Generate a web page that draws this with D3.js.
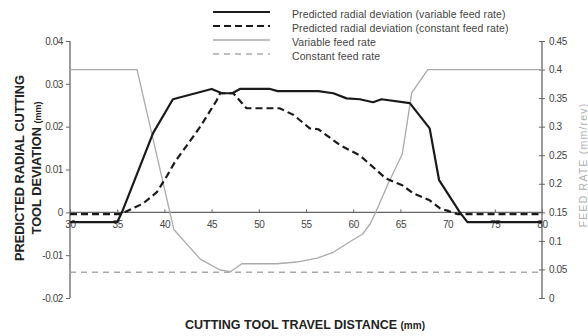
<!DOCTYPE html>
<html><head><meta charset="utf-8">
<script src="https://cdn.jsdelivr.net/npm/d3@7"></script>
<style>body{margin:0;background:#fff}svg{display:block}</style>
</head><body>
<svg id="c" width="588" height="336"></svg>
<script>
// distance (mm)
const xTicks = [30,35,40,45,50,55,60,65,70,75,80];
const leftTicks = [-0.02,-0.01,0,0.01,0.02,0.03,0.04];
const leftTickLabels = ["-0.02","-0.01","0","0.01","0.02","0.03","0.04"];
const rightTicks = [0,0.05,0.1,0.15,0.2,0.25,0.3,0.35,0.4,0.45];
const rightTickLabels = ["0","0.05","0.1","0.15","0.2","0.25","0.3","0.35","0.4","0.45"];

const devVarX = [30,35,35.5,38.8,40.9,45,46.1,47.2,48,51.2,52,56.3,57.9,59.3,60.7,62.1,63,66,68.1,69.1,71.3,72.1,80];
const devVarY = [-0.0023,-0.0023,0,0.0185,0.0264,0.0288,0.0278,0.0278,0.0288,0.0288,0.0283,0.0283,0.0278,0.0266,0.0264,0.0257,0.0264,0.0255,0.0196,0.0075,0,-0.0023,-0.0023];

const devConX = [30,35.4,37.7,39.2,40.3,41.1,43.8,45.5,45.9,47.3,48.7,52.2,53.7,55.4,56.3,58.6,60.7,62.5,63.4,65.2,66.4,68.1,69.2,70.5,71,80];
const devConY = [-0.0004,-0.0004,0.002,0.0047,0.0086,0.0117,0.02,0.026,0.0278,0.0278,0.0243,0.0243,0.0227,0.0196,0.0194,0.0157,0.0133,0.0098,0.008,0.0063,0.0044,0.0028,0.0009,0,-0.0004,-0.0004];

const feedVarX = [30,37.1,41.0,42.4,43.8,45.9,47,48.2,51.9,54,56.2,57.9,59.3,61,61.8,62.3,63.7,65.2,66.2,67.9,80];
const feedVarY = [0.4,0.4,0.12,0.094,0.068,0.049,0.046,0.06,0.06,0.063,0.07,0.08,0.095,0.112,0.13,0.147,0.2,0.252,0.359,0.4,0.4];

const feedConX = [30,80];
const feedConY = [0.045,0.045];

const legendLabels = ["Predicted radial deviation (variable feed rate)","Predicted radial deviation (constant feed rate)","Variable feed rate","Constant feed rate"];

const svg = d3.select("#c");
const x = d3.scaleLinear().domain([30,80]).range([70,542]);
const yL = d3.scaleLinear().domain([-0.02,0.04]).range([298,41]);
const yR = d3.scaleLinear().domain([0,0.45]).range([298,41]);
const axisCol = "#666", txtCol = "#444";
const FONT = "Liberation Sans, Arial, sans-serif";

// left axis
const gL = svg.append("g").attr("transform","translate(70,0)")
  .call(d3.axisLeft(yL).tickValues(leftTicks).tickFormat((d,i)=>leftTickLabels[i]).tickSize(4).tickPadding(3));
// right axis
const gR = svg.append("g").attr("transform","translate(542,0)")
  .call(d3.axisRight(yR).tickValues(rightTicks).tickFormat((d,i)=>rightTickLabels[i]).tickSize(3).tickPadding(4));
gR.selectAll(".tick line").attr("x1",-3);
// x axis at zero
const gX = svg.append("g").attr("transform",`translate(0,${yL(0)})`)
  .call(d3.axisBottom(x).tickValues(xTicks).tickSize(0).tickPadding(9));
gX.selectAll(".tick").append("line").attr("y1",0).attr("y2",-3).attr("stroke",axisCol);

[gL,gR,gX].forEach(g=>{
  g.select(".domain").attr("stroke",axisCol).attr("stroke-width",1.3);
  g.selectAll(".tick line").attr("stroke",axisCol);
  g.selectAll("text").attr("fill",txtCol).style("font-family",FONT).style("font-size","10px").style("letter-spacing","-0.4px");
});
gL.select(".domain").attr("d","M0,41V298");
gR.select(".domain").attr("d","M0,41V298");
gX.select(".domain").attr("d","M70,0H542");

function draw(xs, ys, yScale, col, w, dash){
  const pts = xs.map((d,i)=>[d,ys[i]]);
  svg.append("path").datum(pts)
    .attr("d", d3.line().x(d=>x(d[0])).y(d=>yScale(d[1])))
    .attr("fill","none").attr("stroke",col).attr("stroke-width",w)
    .attr("stroke-dasharray",dash||null).attr("stroke-linejoin","round");
}
draw(feedConX, feedConY, yR, "#aaa", 1.6, "6,5");
draw(feedVarX, feedVarY, yR, "#aaa", 1.3);
draw(devConX, devConY, yL, "#1a1a1a", 2.2, "7,4");
draw(devVarX, devVarY, yL, "#1a1a1a", 2.2);

// legend
const legStyles = [["#1a1a1a",2.2,null],["#1a1a1a",2.2,"7,4"],["#aaa",1.3,null],["#aaa",1.6,"6,5"]];
const legY = [12,26,40,54];
legendLabels.forEach((t,i)=>{
  svg.append("line").attr("x1",213).attr("x2",270).attr("y1",legY[i]).attr("y2",legY[i])
    .attr("stroke",legStyles[i][0]).attr("stroke-width",legStyles[i][1]).attr("stroke-dasharray",legStyles[i][2]);
  svg.append("text").attr("x",292).attr("y",legY[i]+6).text(t)
    .attr("fill",txtCol).style("font-family",FONT).style("font-size","10.5px").style("letter-spacing","0.1px");
});

// titles
const tl = svg.append("text").attr("transform","translate(24,168) rotate(-90)").attr("text-anchor","middle")
  .style("font-family",FONT).style("font-weight","bold").style("font-size","12.8px").attr("fill","#222");
tl.text("PREDICTED RADIAL CUTTING");
const tl2 = svg.append("text").attr("transform","translate(41,168) rotate(-90)").attr("text-anchor","middle")
  .style("font-family",FONT).style("font-weight","bold").style("font-size","12.8px").attr("fill","#222");
tl2.append("tspan").text("TOOL DEVIATION ");
tl2.append("tspan").style("font-size","9px").text(" (mm)");

const tx = svg.append("text").attr("x",305).attr("y",329).attr("text-anchor","middle")
  .style("font-family",FONT).style("font-weight","bold").style("font-size","12.5px").attr("fill","#222");
tx.append("tspan").text("CUTTING TOOL TRAVEL DISTANCE ");
tx.append("tspan").style("font-size","10px").text("  (mm)");

svg.append("text").attr("transform","translate(587,165) rotate(-90)").attr("text-anchor","middle")
  .style("font-family",FONT).style("font-size","10.5px").style("letter-spacing","1.2px").attr("fill","#b0b0b0")
  .text("FEED RATE (mm/rev)");
</script>
</body></html>
